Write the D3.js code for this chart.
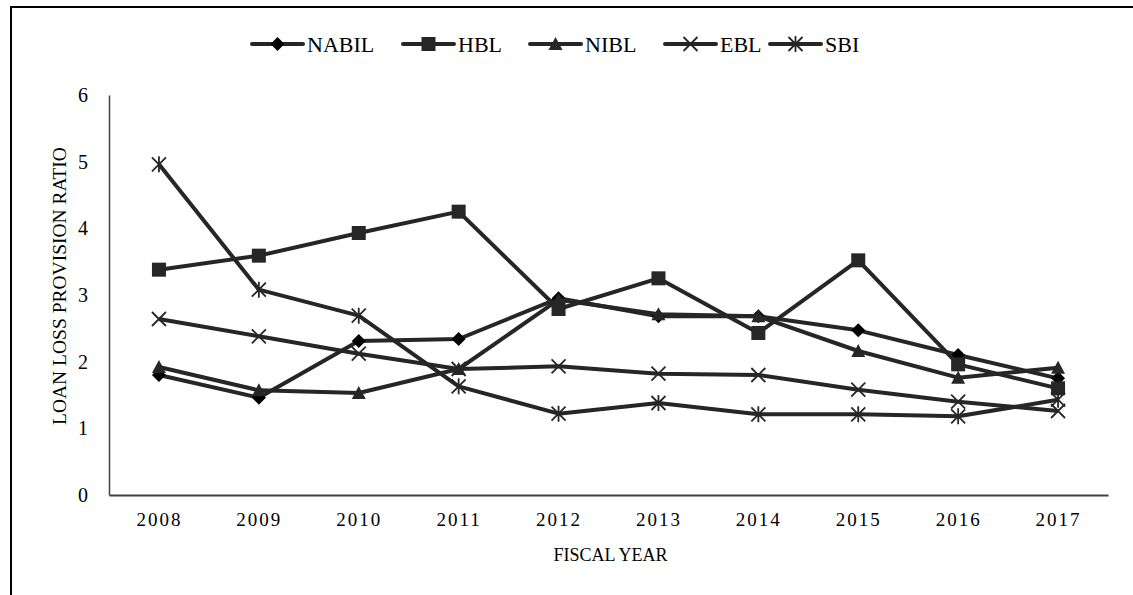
<!DOCTYPE html>
<html>
<head>
<meta charset="utf-8">
<script src="https://cdn.jsdelivr.net/npm/d3@7"></script>
<style>
  html, body { margin: 0; padding: 0; background: #fff; }
  svg { display: block; }
  text { font-family: "Liberation Serif", "Times New Roman", serif; fill: #000; }
</style>
</head>
<body>
<svg id="chart" width="1133" height="595"></svg>
<script>
// Fiscal years on the horizontal axis
const years = ["2008", "2009", "2010", "2011", "2012", "2013", "2014", "2015", "2016", "2017"];

// Loan loss provision ratio per bank
const nabil = [1.80, 1.46, 2.31, 2.34, 2.95, 2.68, 2.68, 2.47, 2.10, 1.75];
const hbl   = [3.38, 3.59, 3.93, 4.25, 2.79, 3.25, 2.43, 3.52, 1.96, 1.60];
const nibl  = [1.92, 1.57, 1.53, 1.89, 2.93, 2.71, 2.68, 2.16, 1.76, 1.91];
const ebl   = [2.64, 2.38, 2.12, 1.89, 1.93, 1.82, 1.80, 1.58, 1.40, 1.26];
const sbi   = [4.96, 3.08, 2.69, 1.63, 1.22, 1.38, 1.21, 1.21, 1.18, 1.43];

const seriesNames = ["NABIL", "HBL", "NIBL", "EBL", "SBI"];
const yTicks = [0, 1, 2, 3, 4, 5, 6];

const series = [
  { name: seriesNames[0], values: nabil, marker: "diamond" },
  { name: seriesNames[1], values: hbl,   marker: "square" },
  { name: seriesNames[2], values: nibl,  marker: "triangle" },
  { name: seriesNames[3], values: ebl,   marker: "cross" },
  { name: seriesNames[4], values: sbi,   marker: "asterisk" }
];

const svg = d3.select("#chart");
const W = 1133, H = 595;
const plot = { left: 109, right: 1108, top: 95, bottom: 495 };
const lineColor = "#262626";
const serif = "'Liberation Serif', 'Times New Roman', serif";

// Outer frame (partly outside the visible area)
svg.append("rect")
  .attr("x", 11).attr("y", 7)
  .attr("width", W).attr("height", H)
  .attr("fill", "none").attr("stroke", "#000").attr("stroke-width", 2);

const x = d3.scalePoint().domain(years).range([plot.left, plot.right]).padding(0.5);
const y = d3.scaleLinear().domain([0, 6]).range([plot.bottom, plot.top]);

// Axes
const yAxis = svg.append("g").attr("transform", `translate(${plot.left},0)`)
  .attr("font-family", serif)
  .call(d3.axisLeft(y).tickValues(yTicks).tickSize(0).tickPadding(21).tickFormat(d3.format("d")));
yAxis.select(".domain").attr("stroke", "#404040").attr("stroke-width", 1.5);
yAxis.selectAll("text").attr("font-size", 20).attr("fill", "#000");

const xAxis = svg.append("g").attr("transform", `translate(0,${plot.bottom})`)
  .attr("font-family", serif)
  .call(d3.axisBottom(x).tickSize(0).tickPadding(18));
xAxis.select(".domain").attr("stroke", "#404040").attr("stroke-width", 2);
xAxis.selectAll("text").attr("font-size", 19).attr("fill", "#000")
  .attr("letter-spacing", 2);

// Axis titles
svg.append("text")
  .attr("x", (plot.left + plot.right) / 2 + 2).attr("y", 561)
  .attr("text-anchor", "middle").attr("font-size", 18)
  .text("FISCAL YEAR");

svg.append("text")
  .attr("transform", `translate(66,${(plot.top + plot.bottom) / 2 - 9}) rotate(-90)`)
  .attr("text-anchor", "middle").attr("font-size", 19.5)
  .text("LOAN LOSS PROVISION RATIO");

// Marker shapes
function drawMarker(g, type, cx, cy) {
  const s = 7;
  if (type === "diamond") {
    g.append("path")
      .attr("d", `M${cx},${cy - s}L${cx + s},${cy}L${cx},${cy + s}L${cx - s},${cy}Z`)
      .attr("fill", "#000");
  } else if (type === "square") {
    g.append("rect")
      .attr("x", cx - s).attr("y", cy - s).attr("width", 2 * s).attr("height", 2 * s)
      .attr("fill", lineColor);
  } else if (type === "triangle") {
    g.append("path")
      .attr("d", `M${cx},${cy - s}L${cx + s},${cy + 6}L${cx - s},${cy + 6}Z`)
      .attr("fill", lineColor);
  } else if (type === "cross") {
    g.append("path")
      .attr("d", `M${cx - s},${cy - s}L${cx + s},${cy + s}M${cx - s},${cy + s}L${cx + s},${cy - s}`)
      .attr("stroke", lineColor).attr("stroke-width", 1.8).attr("fill", "none");
  } else if (type === "asterisk") {
    g.append("path")
      .attr("d", `M${cx - s},${cy - s}L${cx + s},${cy + s}M${cx - s},${cy + s}L${cx + s},${cy - s}M${cx},${cy - s - 1}L${cx},${cy + s + 1}`)
      .attr("stroke", lineColor).attr("stroke-width", 1.8).attr("fill", "none");
  }
}

// Series lines and markers
const line = d3.line().x((d, i) => x(years[i])).y(d => y(d));
series.forEach(s => {
  const g = svg.append("g");
  g.append("path")
    .datum(s.values)
    .attr("d", line)
    .attr("fill", "none")
    .attr("stroke", lineColor)
    .attr("stroke-width", 4)
    .attr("stroke-linejoin", "round");
  s.values.forEach((v, i) => drawMarker(g, s.marker, x(years[i]), y(v)));
});

// Legend
const legendX = [252, 403, 530, 665, 770];
const legend = svg.append("g");
series.forEach((s, i) => {
  const lx = legendX[i], ly = 44;
  const g = legend.append("g");
  g.append("line")
    .attr("x1", lx).attr("x2", lx + 51).attr("y1", ly).attr("y2", ly)
    .attr("stroke", lineColor).attr("stroke-width", 4).attr("stroke-linecap", "round");
  drawMarker(g, s.marker, lx + 25.5, ly);
  g.append("text")
    .attr("x", lx + 55).attr("y", ly + 8)
    .attr("font-size", 22)
    .text(s.name);
});
</script>
</body>
</html>
